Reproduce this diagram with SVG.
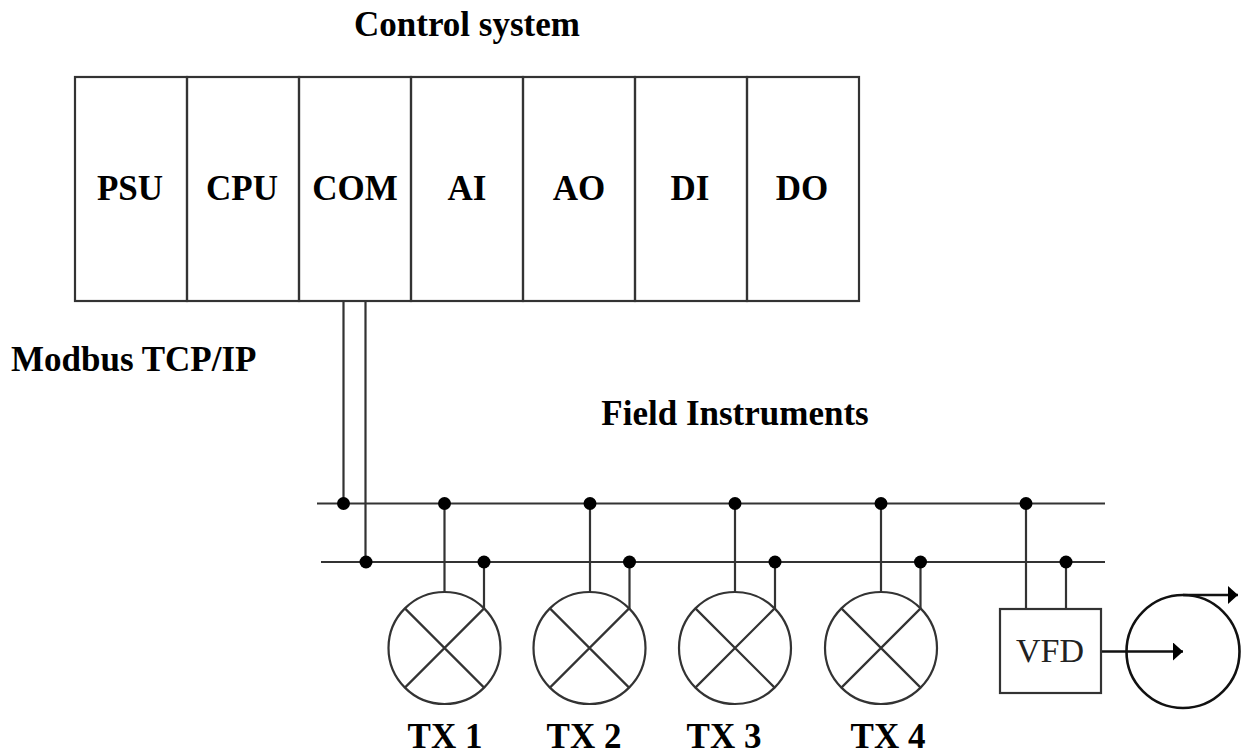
<svg xmlns="http://www.w3.org/2000/svg" width="1244" height="756" viewBox="0 0 1244 756">
<style>
.ln{fill:none;stroke:#333;stroke-width:2.2}
.dk{fill:none;stroke:#111;stroke-width:2.6}
.bl{font-family:"Liberation Serif","Times New Roman",serif;font-weight:bold;font-size:35px;fill:#000}
.m{text-anchor:middle}
.dot{fill:#000}
</style>
<defs>
<marker id="arr" markerUnits="userSpaceOnUse" markerWidth="10" markerHeight="18" refX="10" refY="9" orient="auto"><path d="M0 0L10 9L0 18Z" fill="#000"/></marker>
<g id="lamp"><circle cx="0" cy="0" r="56" class="ln"/><path d="M-39.6 -39.6L39.6 39.6M-39.6 39.6L39.6 -39.6" class="ln"/></g>
</defs>
<rect width="1244" height="756" fill="#fff"/>
<text class="bl m" x="467" y="36">Control system</text>
<text class="bl" x="11" y="371">Modbus TCP/IP</text>
<text class="bl m" x="735" y="425">Field Instruments</text>
<g id="connectors">
<path class="ln" d="M317 503.5H1105M321 562H1105"/>
<path class="ln" d="M343.500 301V503.500M365.500 301V562"/>
<path class="ln" d="M444.500 503.500V592M484 562V609M590 503.500V592M629.500 562V609M735 503.500V592M775 562V609M881 503.500V592M920.500 562V609M1026 503.500V609M1066 562V609"/>
<g class="dot">
<circle cx="343.500" cy="503.500" r="6.500"/><circle cx="366" cy="562" r="6.500"/>
<circle cx="444.500" cy="503.500" r="6.500"/><circle cx="484" cy="562" r="6.500"/>
<circle cx="590" cy="503.500" r="6.500"/><circle cx="629.500" cy="562" r="6.500"/>
<circle cx="735" cy="503.500" r="6.500"/><circle cx="775" cy="562" r="6.500"/>
<circle cx="881" cy="503.500" r="6.500"/><circle cx="920.500" cy="562" r="6.500"/>
<circle cx="1026" cy="503.500" r="6.500"/><circle cx="1066" cy="562" r="6.500"/>
</g>
<path class="dk" d="M1101 651.500H1183" marker-end="url(#arr)"/>
<path class="dk" d="M1183 595H1238" marker-end="url(#arr)"/>
</g>
<g id="psu"><rect class="ln" x="75" y="77" width="112" height="224"/><text class="bl m" x="130" y="199.500">PSU</text></g>
<g id="cpu"><rect class="ln" x="187" y="77" width="112" height="224"/><text class="bl m" x="242" y="199.500">CPU</text></g>
<g id="com"><rect class="ln" x="299" y="77" width="112" height="224"/><text class="bl m" x="355" y="199.500">COM</text></g>
<g id="ai"><rect class="ln" x="411" y="77" width="112" height="224"/><text class="bl m" x="467" y="199.500">AI</text></g>
<g id="ao"><rect class="ln" x="523" y="77" width="112" height="224"/><text class="bl m" x="579" y="199.500">AO</text></g>
<g id="di"><rect class="ln" x="635" y="77" width="112" height="224"/><text class="bl m" x="690" y="199.500">DI</text></g>
<g id="do"><rect class="ln" x="747" y="77" width="112" height="224"/><text class="bl m" x="802" y="199.500">DO</text></g>
<g id="tx1"><use href="#lamp" x="444.500" y="648"/><text class="bl m" x="445" y="748.400">TX 1</text></g>
<g id="tx2"><use href="#lamp" x="589.500" y="648"/><text class="bl m" x="584" y="748.400">TX 2</text></g>
<g id="tx3"><use href="#lamp" x="735" y="648"/><text class="bl m" x="724" y="748.400">TX 3</text></g>
<g id="tx4"><use href="#lamp" x="881" y="648"/><text class="bl m" x="888" y="748.400">TX 4</text></g>
<g id="vfd"><rect class="ln" x="1000" y="609" width="101" height="84"/><text x="1050" y="662" text-anchor="middle" font-family="'Liberation Serif','Times New Roman',serif" font-size="34" fill="#222">VFD</text></g>
<g id="motor"><circle class="dk" cx="1183" cy="651.500" r="56.500"/></g>
</svg>
